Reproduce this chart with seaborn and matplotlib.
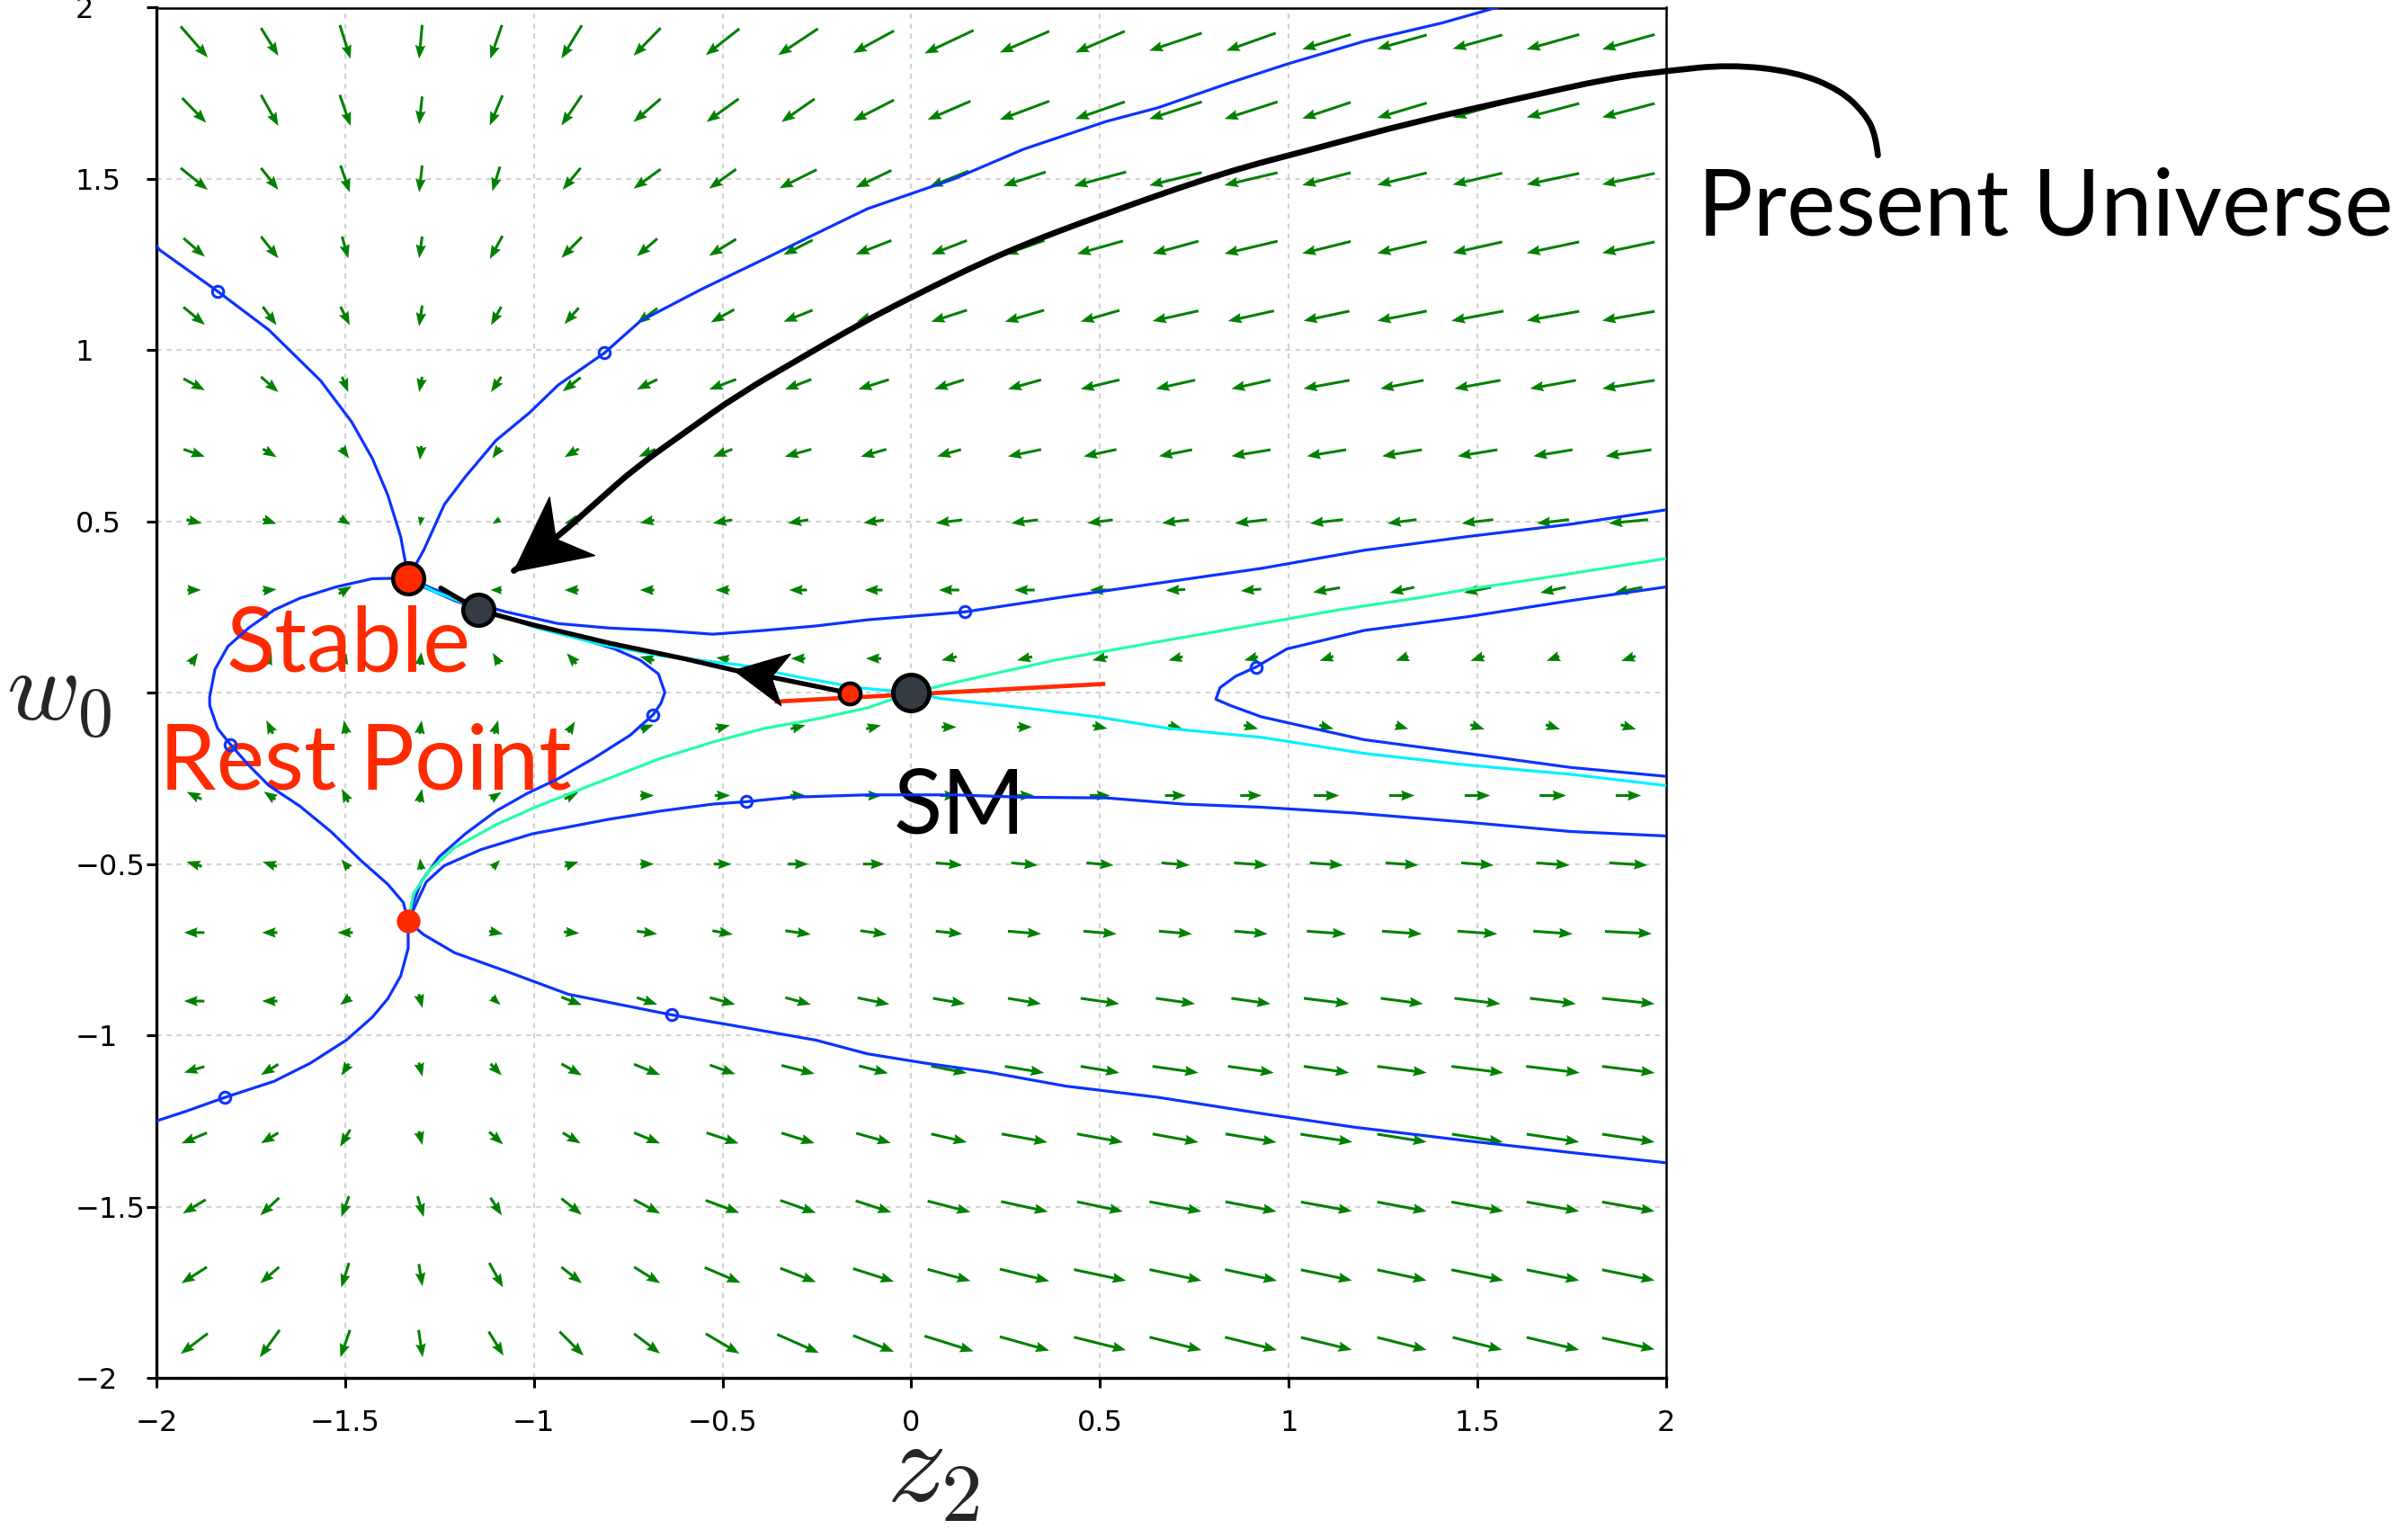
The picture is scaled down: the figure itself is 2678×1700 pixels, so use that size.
import numpy as np
import matplotlib.pyplot as plt
import seaborn as sns
from matplotlib.path import Path
from matplotlib.patches import PathPatch
from matplotlib.markers import MarkerStyle
from matplotlib.transforms import Affine2D

# --- direction field (arrow components) ---
z_arrows = [-1.9, -1.7, -1.5, -1.3, -1.1, -0.9, -0.7, -0.5, -0.3, -0.1,
            0.1, 0.3, 0.5, 0.7, 0.9, 1.1, 1.3, 1.5, 1.7, 1.9]
w_arrows = [1.9, 1.7, 1.5, 1.3, 1.1, 0.9, 0.7, 0.5, 0.3, 0.1,
            -0.1, -0.3, -0.5, -0.7, -0.9, -1.1, -1.3, -1.5, -1.7, -1.9]

u_rows = [
    [53, 34, 21, -6, -23, -40, -53, -66, -78, -80, -96, -97, -97, -103, -97, -95, -97, -97, -103, -103],
    [47, 34, 21, -6, -25, -40, -53, -63, -65, -80, -84, -97, -97, -103, -104, -95, -97, -97, -103, -103],
    [53, 34, 18, -6, -15, -35, -53, -53, -73, -70, -77, -83, -102, -103, -104, -95, -97, -97, -103, -103],
    [42, 34, 12, -6, -25, -40, -40, -53, -57, -70, -70, -78, -90, -90, -104, -95, -97, -97, -103, -103],
    [42, 27, 18, -6, -20, -28, -40, -46, -57, -65, -70, -77, -76, -90, -90, -90, -97, -102, -103, -103],
    [42, 34, 12, -6, -20, -35, -40, -53, -52, -60, -58, -65, -76, -77, -77, -90, -85, -90, -90, -103],
    [42, 27, 15, -3, -15, -28, -33, -38, -52, -50, -47, -65, -64, -65, -77, -77, -78, -78, -77, -90],
    [30, 27, 21, -3, -15, -28, -28, -38, -40, -40, -52, -52, -50, -53, -63, -65, -57, -62, -63, -77],
    [27, 27, 25, -2, -22, -28, -28, -28, -35, -35, -40, -40, -40, -38, -40, -53, -48, -53, -50, -55],
    [15, 8, 5, 3, -13, -19, -28, -25, -28, -30, -30, -30, -30, -28, -27, -27, -25, -27, -25, -28],
    [-5, -13, -5, 4, 8, 13, 25, 29, 29, 29, 29, 29, 29, 28, 28, 28, 25, 28, 28, 30],
    [-29, -23, -13, 5, 21, 27, 27, 30, 30, 32, 35, 37, 40, 41, 42, 50, 50, 50, 52, 50],
    [-30, -28, -15, -3, 15, 27, 27, 35, 40, 42, 52, 52, 53, 55, 66, 65, 64, 64, 65, 75],
    [-40, -30, -30, 2, 27, 30, 40, 40, 50, 52, 52, 65, 65, 65, 65, 77, 78, 78, 77, 92],
    [-40, -30, -20, 7, 17, 40, 40, 50, 50, 62, 63, 65, 76, 77, 77, 89, 83, 90, 90, 103],
    [-40, -34, -15, 7, 22, 40, 51, 50, 65, 57, 70, 77, 76, 90, 90, 89, 97, 102, 105, 103],
    [-50, -34, -20, 7, 27, 35, 51, 63, 65, 68, 70, 90, 90, 90, 100, 102, 97, 100, 103, 103],
    [-45, -37, -15, 12, 22, 40, 51, 66, 70, 70, 84, 92, 90, 102, 100, 100, 97, 102, 103, 103],
    [-50, -37, -15, 7, 27, 40, 51, 70, 70, 80, 84, 97, 102, 102, 102, 100, 97, 102, 103, 103],
    [-53, -39, -19, 8, 29, 47, 51, 66, 82, 80, 96, 97, 102, 102, 102, 100, 97, 97, 103, 103],
]
v_rows = [
    [-67, -60, -73, -73, -73, -72, -60, -57, -57, -48, -50, -46, -46, -38, -38, -32, -30, -30, -32, -32],
    [-53, -67, -67, -60, -65, -65, -50, -50, -50, -45, -40, -40, -37, -37, -37, -35, -32, -30, -30, -30],
    [-47, -47, -58, -58, -53, -47, -42, -42, -40, -37, -34, -30, -30, -28, -27, -27, -26, -25, -24, -24],
    [-40, -47, -47, -47, -50, -45, -38, -36, -32, -30, -30, -30, -28, -27, -27, -26, -25, -24, -24, -24],
    [-38, -40, -40, -45, -40, -35, -33, -28, -25, -24, -25, -25, -24, -22, -22, -21, -21, -21, -20, -20],
    [-25, -33, -33, -33, -33, -30, -22, -22, -22, -21, -20, -20, -20, -19, -19, -18, -18, -18, -18, -18],
    [-16, -18, -23, -30, -23, -18, -16, -16, -16, -16, -15, -15, -15, -14, -14, -14, -14, -14, -14, -14],
    [-8, -10, -14, -20, -10, -8, -6, -7, -7, -6, -7, -7, -7, -7, -8, -8, -8, -8, -8, -8],
    [0, 3, 17, 4, 0, 0, 0, 0, 0, 0, 0, 0, 0, -2, -4, -10, -12, -12, -12, -12],
    [24, 25, 24, 28, 24, 23, 8, 4, 0, 0, -8, -8, -8, -8, -8, -10, -10, -10, -10, -10],
    [15, 29, 29, 29, 29, 24, 10, 8, 8, 8, 0, 0, -7, -8, -8, -8, -8, -10, -10, -10],
    [16, 17, 29, 29, 15, 15, 0, 0, 0, 0, 0, 0, 0, 0, 0, 0, 0, 0, 0, 0],
    [10, 10, 20, 25, 17, 10, 0, 0, 0, 0, -5, -5, -5, -5, -5, -5, -5, -5, -5, -5],
    [0, 0, 0, -3, -6, -3, -6, -8, -8, -8, -6, -6, -6, -6, -6, -6, -6, -6, -6, -5],
    [0, 0, -17, -30, -17, -17, -15, -15, -15, -14, -12, -12, -12, -12, -12, -12, -12, -12, -12, -12],
    [-13, -23, -26, -30, -25, -25, -23, -20, -18, -16, -15, -14, -14, -14, -14, -14, -14, -14, -14, -14],
    [-23, -23, -37, -30, -27, -23, -23, -23, -22, -21, -18, -18, -18, -18, -18, -17, -17, -17, -17, -17],
    [-30, -38, -45, -45, -38, -35, -30, -27, -27, -25, -24, -22, -21, -21, -21, -20, -20, -20, -20, -20],
    [-35, -35, -53, -48, -53, -35, -35, -33, -30, -28, -25, -26, -24, -24, -24, -23, -23, -23, -23, -23],
    [-44, -59, -59, -59, -52, -52, -43, -43, -40, -35, -33, -30, -28, -28, -28, -27, -27, -27, -27, -25],
]

# --- trajectories (blue) ---
traj_a_z = [-2.000, -1.992, -1.838, -1.702, -1.565, -1.483, -1.428, -1.387, -1.353, -1.335, -1.333]
traj_a_w = [1.305, 1.293, 1.172, 1.059, 0.911, 0.791, 0.684, 0.577, 0.456, 0.349, 0.335]

traj_b_z = [-1.333, -1.292, -1.237, -1.182, -1.100, -1.011, -0.936, -0.813, -0.718, -0.554, -0.390,
            -0.253, -0.116, 0.113, 0.298, 0.517, 0.654, 0.845, 0.995, 1.200, 1.405, 1.556]
traj_b_w = [0.335, 0.416, 0.550, 0.630, 0.737, 0.818, 0.898, 0.992, 1.085, 1.179, 1.266,
            1.340, 1.413, 1.500, 1.587, 1.668, 1.708, 1.781, 1.835, 1.902, 1.955, 2.002]

traj_c_z = [-1.333, -1.428, -1.524, -1.620, -1.688, -1.756, -1.811, -1.845, -1.859, -1.859,
            -1.838, -1.804, -1.756, -1.702, -1.620, -1.538, -1.456, -1.387, -1.346, -1.333]
traj_c_w = [0.335, 0.333, 0.309, 0.276, 0.242, 0.189, 0.135, 0.068, -0.012, -0.037,
            -0.104, -0.151, -0.211, -0.271, -0.331, -0.405, -0.492, -0.559, -0.612, -0.667]

traj_d_z = [-1.333, -1.333, -1.353, -1.387, -1.428, -1.497, -1.592, -1.688, -1.818, -1.920, -2.000]
traj_d_w = [-0.667, -0.746, -0.827, -0.893, -0.947, -1.014, -1.081, -1.134, -1.181, -1.221, -1.250]

traj_e_z = [-1.333, -1.292, -1.210, -1.073, -0.909, -0.636, -0.458, -0.253, -0.116, 0.036,
            0.203, 0.408, 0.654, 0.927, 1.173, 1.474, 1.747, 2.000]
traj_e_w = [-0.667, -0.706, -0.759, -0.813, -0.880, -0.940, -0.974, -1.014, -1.054, -1.081,
            -1.107, -1.148, -1.181, -1.228, -1.268, -1.308, -1.342, -1.372]

traj_f_z = [-1.333, -1.305, -1.285, -1.238, -1.141, -1.005, -0.800, -0.663, -0.526, -0.437, -0.321,
            -0.116, 0.113, 0.298, 0.517, 0.722, 0.927, 1.173, 1.474, 1.747, 2.000]
traj_f_w = [-0.667, -0.599, -0.552, -0.505, -0.458, -0.412, -0.369, -0.345, -0.325, -0.318, -0.305,
            -0.298, -0.298, -0.305, -0.307, -0.325, -0.334, -0.351, -0.378, -0.405, -0.418]

traj_g_z = [-1.333, -1.292, -1.210, -1.100, -0.964, -0.868, -0.786, -0.718, -0.670, -0.653, -0.663,
            -0.684, -0.745, -0.841, -0.936, -1.018, -1.100, -1.182, -1.251, -1.299, -1.319, -1.333]
traj_g_w = [0.335, 0.309, 0.269, 0.229, 0.189, 0.155, 0.128, 0.095, 0.055, 0.001, -0.030,
            -0.064, -0.124, -0.191, -0.251, -0.294, -0.345, -0.412, -0.479, -0.552, -0.612, -0.667]

traj_h_z = [-1.333, -1.264, -1.182, -1.073, -0.936, -0.800, -0.663, -0.526, -0.390, -0.253, -0.116,
            0.141, 0.380, 0.654, 0.927, 1.200, 1.474, 1.747, 2.000]
traj_h_w = [0.335, 0.302, 0.269, 0.236, 0.202, 0.189, 0.182, 0.171, 0.182, 0.195, 0.213,
            0.236, 0.276, 0.320, 0.363, 0.416, 0.456, 0.492, 0.534]

traj_i_z = [2.000, 1.747, 1.474, 1.200, 0.995, 0.913, 0.859, 0.818, 0.807, 0.845, 0.927,
            1.036, 1.200, 1.474, 1.747, 2.000]
traj_i_w = [0.309, 0.269, 0.222, 0.182, 0.128, 0.075, 0.048, 0.015, -0.019, -0.037, -0.070,
            -0.097, -0.137, -0.177, -0.218, -0.244]

# separatrices through the SM point
cyan_z = [-1.333, -1.264, -1.155, -0.991, -0.827, -0.663, -0.458, -0.308, -0.144, 0.0, 0.080,
          0.298, 0.490, 0.681, 0.927, 1.200, 1.474, 1.747, 2.000]
cyan_w = [0.335, 0.296, 0.249, 0.189, 0.142, 0.108, 0.082, 0.048, 0.015, 0.0, -0.017,
          -0.044, -0.070, -0.104, -0.130, -0.177, -0.211, -0.238, -0.271]

mint_z = [-1.333, -1.319, -1.278, -1.210, -1.100, -1.005, -0.868, -0.663, -0.526, -0.390, -0.253,
          -0.116, 0.0, 0.107, 0.244, 0.380, 0.517, 0.654, 0.790, 0.927, 1.132, 1.337, 1.474, 1.679, 2.000]
mint_w = [-0.667, -0.586, -0.519, -0.452, -0.385, -0.338, -0.278, -0.191, -0.144, -0.104, -0.077,
          -0.044, 0.0, 0.028, 0.062, 0.095, 0.122, 0.149, 0.175, 0.202, 0.242, 0.276, 0.302, 0.336, 0.392]

# starting points of the trajectories (open circles)
start_z = [-1.838, -0.813, 0.141, 0.913, -1.804, -0.684, -0.437, -0.636, -1.818]
start_w = [1.172, 0.992, 0.236, 0.075, -0.151, -0.064, -0.318, -0.940, -1.181]

# rest points and the path of the universe
stable_pt = (-1.333, 0.335)
lower_pt = (-1.333, -0.667)
sm_pt = (0.0, 0.0)
grey_pt = (-1.148, 0.242)
red_small_pt = (-0.162, -0.002)

tangent_z = [-0.362, 0.514]
tangent_w = [-0.026, 0.026]

path_z = [-1.247, -1.148, -1.005, -0.800, -0.595, -0.470, -0.390, -0.164]
path_w = [0.306, 0.242, 0.199, 0.145, 0.098, 0.066, 0.050, -0.001]
path_tip = 5

present_z = [2.561, 2.555, 2.527, 2.461, 2.342, 2.168, 2.000, 1.856, 1.610, 1.337, 1.064, 0.831,
             0.517, 0.244, -0.006, -0.144, -0.280, -0.458, -0.595, -0.731, -0.827, -0.936, -1.053]
present_w = [1.569, 1.629, 1.690, 1.760, 1.813, 1.834, 1.815, 1.795, 1.735, 1.668, 1.587, 1.520,
             1.400, 1.286, 1.152, 1.072, 0.985, 0.871, 0.764, 0.657, 0.563, 0.456, 0.356]

tick_vals = [-2, -1.5, -1, -0.5, 0, 0.5, 1, 1.5, 2]
x_ticklabels = ["\u22122", "\u22121.5", "\u22121", "\u22120.5", "0", "0.5", "1", "1.5", "2"]
y_ticklabels = ["\u22122", "\u22121.5", "\u22121", "\u22120.5", "", "0.5", "1", "1.5", "2"]

# --- style ---
sns.set_theme(style="white")
plt.rcParams["font.family"] = ["DejaVu Sans"]
plt.rcParams["mathtext.fontset"] = "cm"

RED = "#ff2a00"
BLUE = "#0a33ff"
GREEN = "#008000"
SLATE = "#343b45"
LABEL_FONT = ["Lato", "DejaVu Sans"]

fig = plt.figure(figsize=(26.78, 17), dpi=100)
ax = fig.add_axes([0.06497, 0.09882, 0.62696, 0.89618])
ax.set_xlim(-2, 2)
ax.set_ylim(-2, 2)

# arrows of the flow
Zg, Wg = np.meshgrid(z_arrows, w_arrows)
ax.quiver(Zg, Wg, np.array(u_rows), np.array(v_rows), angles="xy", scale_units="xy", scale=740,
          pivot="middle", color=GREEN, width=0.0018, headwidth=3.8, headlength=5, headaxislength=4.5,
          zorder=1)

# labels inside the plot
ax.text(-1.814, 0.062, "Stable", color=RED, fontsize=72, family=LABEL_FONT, zorder=2)
ax.text(-1.994, -0.281, "Rest Point", color=RED, fontsize=73, family=LABEL_FONT, zorder=2)
ax.text(-0.048, -0.410, "SM", color="black", fontsize=72, family=LABEL_FONT, zorder=2)
ax.text(2.083, 1.336, "Present Universe", color="black", fontsize=74, family=LABEL_FONT,
        clip_on=False, zorder=2)

# trajectories
blue_curves = [(traj_a_z, traj_a_w), (traj_b_z, traj_b_w), (traj_c_z, traj_c_w),
               (traj_d_z, traj_d_w), (traj_e_z, traj_e_w), (traj_f_z, traj_f_w),
               (traj_g_z, traj_g_w), (traj_h_z, traj_h_w), (traj_i_z, traj_i_w)]
for cz, cw in blue_curves:
    sns.lineplot(x=cz, y=cw, sort=False, estimator=None, color=BLUE, linewidth=2.3, ax=ax, zorder=3)
sns.lineplot(x=cyan_z, y=cyan_w, sort=False, estimator=None, color="#00f2ff", linewidth=2.3, ax=ax, zorder=3)
sns.lineplot(x=mint_z, y=mint_w, sort=False, estimator=None, color="#22ffa6", linewidth=2.3, ax=ax, zorder=3)
ax.plot(start_z, start_w, "o", ms=9, mfc="none", mec=BLUE, mew=2.2, zorder=3)

# tangent line at the SM point
ax.plot(tangent_z, tangent_w, color=RED, lw=3.4, solid_capstyle="butt", zorder=4)

# path of the universe
ax.plot(path_z, path_w, color="black", lw=3.8, zorder=4)

# the "Present Universe" pointer, drawn as a smooth curve through the read points
pts = np.column_stack([present_z, present_w])
verts = [pts[0]]
codes = [Path.MOVETO]
for i in range(1, len(pts) - 1):
    verts += [pts[i], (pts[i] + pts[i + 1]) / 2]
    codes += [Path.CURVE3, Path.CURVE3]
verts.append(pts[-1])
codes.append(Path.LINETO)
ax.add_patch(PathPatch(Path(verts, codes), fill=False, edgecolor="black", lw=4.8,
                       capstyle="round", clip_on=False, zorder=4))

# stealth-shaped arrow heads
head = Path([(0, 0), (-1, 0.5), (-0.72, 0), (-1, -0.5), (0, 0)],
            [Path.MOVETO, Path.LINETO, Path.LINETO, Path.LINETO, Path.CLOSEPOLY])


def screen_angle(p_from, p_to):
    a = ax.transData.transform([p_from, p_to])
    d = a[1] - a[0]
    return np.degrees(np.arctan2(d[1], d[0]))


ang1 = screen_angle((path_z[path_tip + 1], path_w[path_tip + 1]), (path_z[path_tip], path_w[path_tip]))
ax.plot([path_z[path_tip]], [path_w[path_tip]], linestyle="none", color="black",
        marker=MarkerStyle(head, transform=Affine2D().rotate_deg(ang1)), ms=84, zorder=5)
ang2 = screen_angle((present_z[-2], present_w[-2]), (present_z[-1], present_w[-1]))
ax.plot([present_z[-1]], [present_w[-1]], linestyle="none", color="black",
        marker=MarkerStyle(head, transform=Affine2D().rotate_deg(ang2)), ms=118, zorder=5)

# rest points
ax.plot(*lower_pt, "o", ms=19, mfc=RED, mec=RED, mew=0, zorder=6)
ax.plot(*stable_pt, "o", ms=25, mfc=RED, mec="black", mew=3.2, zorder=6)
ax.plot(*grey_pt, "o", ms=25, mfc=SLATE, mec="black", mew=3.2, zorder=6)
ax.plot(*sm_pt, "o", ms=29, mfc=SLATE, mec="black", mew=3.4, zorder=6)
ax.plot(*red_small_pt, "o", ms=17, mfc=RED, mec="black", mew=3.0, zorder=6)

# axes
ax.set_xticks(tick_vals)
ax.set_xticklabels(x_ticklabels)
ax.set_yticks(tick_vals)
ax.set_yticklabels(y_ticklabels)
ax.tick_params(axis="both", direction="out", length=8, width=2.2, colors="black",
               labelsize=23, bottom=True, left=True)
ax.tick_params(axis="x", pad=17)
ax.tick_params(axis="y", pad=57)
for lbl in ax.get_yticklabels():
    lbl.set_horizontalalignment("left")
ax.grid(True, color="#d2d2d2", linestyle=(0, (2.5, 2.5)), linewidth=1.6)
ax.set_axisbelow(True)
for side, sp in ax.spines.items():
    sp.set_color("black")
    sp.set_linewidth(2.4 if side in ("left", "bottom") else 1.8)

ax.set_xlabel(r"$z_2$", fontsize=94, va="top", ha="center")
ax.xaxis.set_label_coords(0.5146, -0.025)
ax.set_ylabel(r"$w_0$", fontsize=80, rotation=0, va="center", ha="right")
ax.yaxis.set_label_coords(-0.0298, 0.5)

fig.savefig("out.png", dpi=100, facecolor="white")
